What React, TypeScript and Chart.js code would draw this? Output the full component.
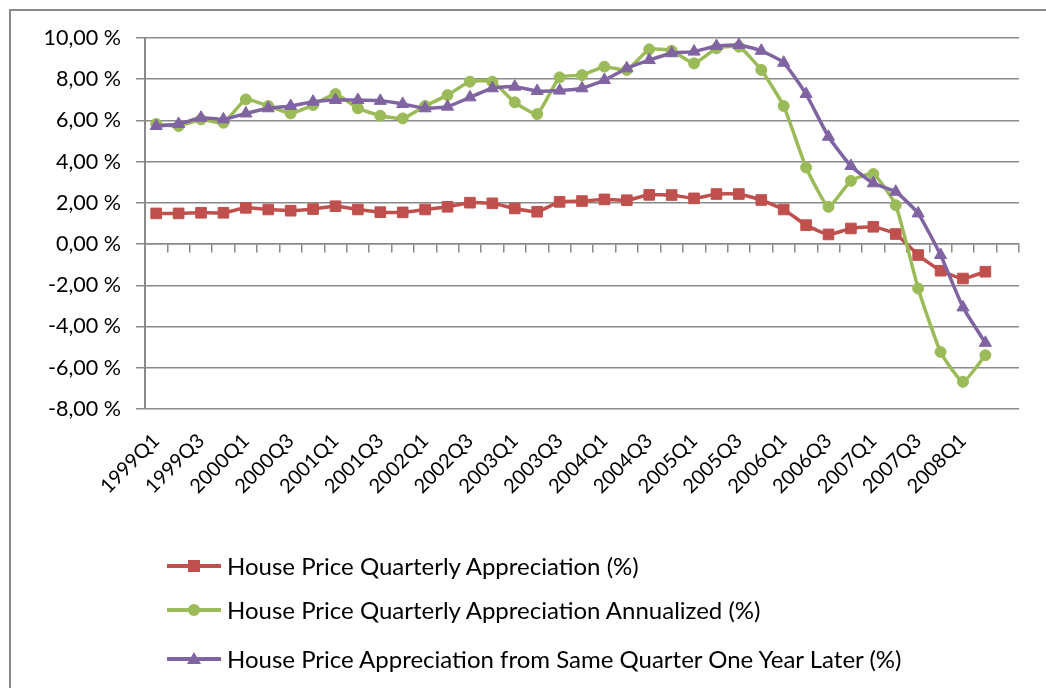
import React, { useEffect, useRef } from "react";
import { Chart, registerables } from "chart.js";

Chart.register(...registerables);

const quarters: string[] = [
  "1999Q1", "1999Q2", "1999Q3", "1999Q4",
  "2000Q1", "2000Q2", "2000Q3", "2000Q4",
  "2001Q1", "2001Q2", "2001Q3", "2001Q4",
  "2002Q1", "2002Q2", "2002Q3", "2002Q4",
  "2003Q1", "2003Q2", "2003Q3", "2003Q4",
  "2004Q1", "2004Q2", "2004Q3", "2004Q4",
  "2005Q1", "2005Q2", "2005Q3", "2005Q4",
  "2006Q1", "2006Q2", "2006Q3", "2006Q4",
  "2007Q1", "2007Q2", "2007Q3", "2007Q4",
  "2008Q1", "2008Q2", "",
];

const quarterly: number[] = [
  1.49, 1.49, 1.52, 1.52, 1.76, 1.68, 1.62, 1.70, 1.84, 1.68, 1.55, 1.54,
  1.68, 1.81, 2.01, 1.98, 1.73, 1.57, 2.05, 2.09, 2.17, 2.13, 2.39, 2.38,
  2.22, 2.43, 2.43, 2.14, 1.68, 0.92, 0.47, 0.76, 0.84, 0.49, -0.53, -1.29,
  -1.67, -1.34,
];

const annualized: number[] = [
  5.83, 5.73, 6.05, 5.89, 7.02, 6.70, 6.34, 6.75, 7.28, 6.59, 6.23, 6.10,
  6.70, 7.23, 7.88, 7.88, 6.88, 6.31, 8.09, 8.20, 8.61, 8.45, 9.45, 9.38,
  8.77, 9.50, 9.58, 8.45, 6.70, 3.72, 1.81, 3.07, 3.40, 1.89, -2.15, -5.23,
  -6.68, -5.39,
];

const yearLater: number[] = [
  5.73, 5.83, 6.13, 6.05, 6.34, 6.59, 6.70, 6.91, 6.99, 6.99, 6.95, 6.80,
  6.59, 6.67, 7.12, 7.56, 7.64, 7.43, 7.45, 7.56, 7.96, 8.53, 8.93, 9.26,
  9.34, 9.61, 9.66, 9.38, 8.80, 7.28, 5.21, 3.79, 2.95, 2.54, 1.49, -0.53,
  -3.07, -4.79,
];

const seriesNames: string[] = [
  "House Price Quarterly Appreciation (%)",
  "House Price Quarterly Appreciation Annualized (%)",
  "House Price Appreciation from Same Quarter One Year Later (%)",
];

const yMin = -8;
const yMax = 10;
const yStep = 2;

const RED = "#C0504D";
const GREEN = "#9BBB59";
const PURPLE = "#8064A2";
const GRID = "#8a8a8a";
const FONT = "Lato, 'Open Sans', sans-serif";

function LegendMarker({ kind, color }: { kind: string; color: string }) {
  return (
    <svg width={56} height={20} style={{ display: "block" }}>
      <line x1={0} y1={10} x2={54} y2={10} stroke={color} strokeWidth={4} />
      {kind === "rect" && <rect x={21} y={4} width={12} height={12} fill={color} />}
      {kind === "circle" && <circle cx={27} cy={10} r={6} fill={color} />}
      {kind === "triangle" && <polygon points="27,3 34,15 20,15" fill={color} />}
    </svg>
  );
}

export default function App() {
  const canvasRef = useRef<HTMLCanvasElement | null>(null);

  useEffect(() => {
    document.body.style.overflow = "hidden";
    const canvas = canvasRef.current;
    if (!canvas) return;
    const chart = new Chart(canvas, {
      type: "line",
      data: {
        labels: quarters,
        datasets: [
          {
            label: seriesNames[0],
            data: quarterly,
            borderColor: RED,
            backgroundColor: RED,
            borderWidth: 3.5,
            pointStyle: "rect",
            pointRadius: 7.5,
            pointBorderWidth: 1,
            pointBorderColor: RED,
            pointBackgroundColor: RED,
            tension: 0.15,
            order: 3,
          },
          {
            label: seriesNames[1],
            data: annualized,
            borderColor: GREEN,
            backgroundColor: GREEN,
            borderWidth: 3.5,
            pointStyle: "circle",
            pointRadius: 5.5,
            pointBorderWidth: 1,
            pointBorderColor: GREEN,
            pointBackgroundColor: GREEN,
            tension: 0.15,
            order: 2,
          },
          {
            label: seriesNames[2],
            data: yearLater,
            borderColor: PURPLE,
            backgroundColor: PURPLE,
            borderWidth: 3.5,
            pointStyle: "triangle",
            pointRadius: 7,
            pointBorderWidth: 1,
            pointBorderColor: PURPLE,
            pointBackgroundColor: PURPLE,
            tension: 0.15,
            order: 1,
          },
        ],
      },
      options: {
        animation: false,
        responsive: false,
        devicePixelRatio: 1,
        layout: { padding: { left: 0, right: 27, top: 38, bottom: 0 } },
        plugins: {
          legend: { display: false },
          tooltip: { enabled: false },
        },
        scales: {
          x: {
            type: "category",
            position: "bottom",
            offset: true,
            grid: { display: false },
            border: { display: false },
            afterFit: (s: any) => {
              s.height = 111;
            },
            ticks: {
              autoSkip: false,
              maxRotation: 45,
              minRotation: 45,
              padding: 12,
              color: "#000",
              font: { family: FONT, size: 20 },
              callback: function (this: any, val: any, index: number) {
                return index % 2 === 0 ? this.getLabelForValue(val) : "";
              },
            },
          },
          x2: {
            type: "category",
            position: { y: 0 } as any,
            offset: true,
            grid: {
              display: true,
              drawOnChartArea: false,
              drawTicks: true,
              tickLength: 8,
              offset: true,
              color: GRID,
              lineWidth: 1.5,
            },
            border: { display: true, color: GRID, width: 1.5 },
            ticks: { display: false, autoSkip: false },
          },
          y: {
            min: yMin,
            max: yMax,
            afterFit: (s: any) => {
              s.width = 145;
            },
            grid: {
              color: GRID,
              lineWidth: 1.5,
              drawTicks: true,
              tickLength: 9,
            },
            border: { display: true, color: GRID, width: 2 },
            ticks: {
              stepSize: yStep,
              padding: 15,
              color: "#000",
              font: { family: FONT, size: 21.5 },
              callback: (v: any) => Number(v).toFixed(2).replace(".", ",") + " %",
            },
          },
        },
      },
    } as any);
    return () => chart.destroy();
  }, []);

  const legendItems = [
    { kind: "rect", color: RED, top: 555 },
    { kind: "circle", color: GREEN, top: 599 },
    { kind: "triangle", color: PURPLE, top: 648 },
  ];

  return (
    <div>
      <div
        style={{
          position: "fixed",
          left: 9,
          top: 9,
          width: 1100,
          height: 800,
          border: "2px solid #8a8a8a",
          boxSizing: "border-box",
        }}
      />
      <canvas
        ref={canvasRef}
        width={1046}
        height={520}
        style={{ position: "fixed", left: 0, top: 0, width: 1046, height: 520 }}
      />
      {legendItems.map((it, i) => (
        <div
          key={i}
          style={{
            position: "fixed",
            left: 167,
            top: it.top,
            display: "flex",
            alignItems: "center",
            fontFamily: FONT,
            fontSize: 24,
            color: "#000",
            whiteSpace: "nowrap",
            lineHeight: "22px",
          }}
        >
          <LegendMarker kind={it.kind} color={it.color} />
          <span style={{ marginLeft: 4 }}>{seriesNames[i]}</span>
        </div>
      ))}
    </div>
  );
}
